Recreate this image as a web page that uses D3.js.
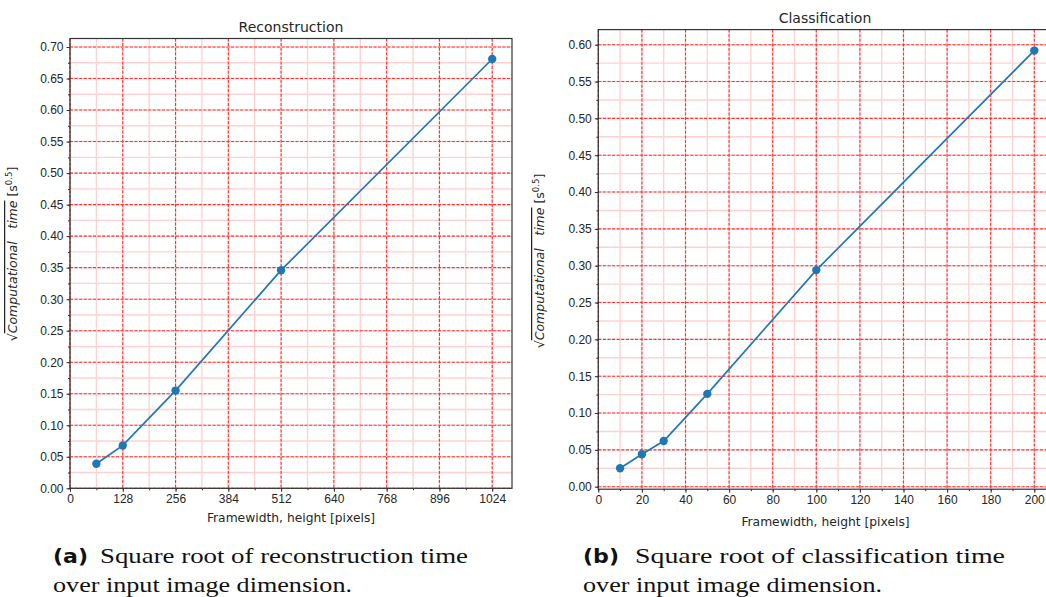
<!DOCTYPE html>
<html>
<head>
<meta charset="utf-8">
<style>
  body { margin: 0; background: #fff; }
  svg { display: block; font-family: "DejaVu Sans", sans-serif; }
  .tick text { fill: #262626; font-size: 12px; }
  .caption { font-family: "Liberation Serif", "DejaVu Serif", serif; font-size: 21px; fill: #111; }
</style>
</head>
<body>
<script src="https://cdn.jsdelivr.net/npm/d3@7"></script>
<script>
// data
var reconSizes = [64, 128, 256, 512, 1024];
var reconTimes = [0.039, 0.068, 0.155, 0.346, 0.681];
var reconXTicks = [0, 128, 256, 384, 512, 640, 768, 896, 1024];
var reconYTicks = [0, 0.05, 0.10, 0.15, 0.20, 0.25, 0.30, 0.35, 0.40, 0.45, 0.50, 0.55, 0.60, 0.65, 0.70];

var classSizes = [10, 20, 30, 50, 100, 200];
var classTimes = [0.025, 0.044, 0.062, 0.126, 0.294, 0.592];
var classXTicks = [0, 20, 40, 60, 80, 100, 120, 140, 160, 180, 200];
var classYTicks = [0, 0.05, 0.10, 0.15, 0.20, 0.25, 0.30, 0.35, 0.40, 0.45, 0.50, 0.55, 0.60];

var svg = d3.select("body").append("svg")
  .attr("width", 1046)
  .attr("height", 597);

// one matplotlib-like panel
function drawPanel(cfg) {
  var x = d3.scaleLinear().domain(cfg.xDomain).range([cfg.left, cfg.right]);
  var y = d3.scaleLinear().domain(cfg.yDomain).range([cfg.bottom, cfg.top]);
  var g = svg.append("g");

  var xMinor = d3.range(cfg.xDomain[0], cfg.xDomain[1], cfg.xMinorStep);
  var yMinor = d3.range(0, cfg.yDomain[1], 0.025);

  // minor grid
  g.append("g").selectAll("line").data(xMinor).enter().append("line")
    .attr("x1", function(d) { return x(d); }).attr("x2", function(d) { return x(d); })
    .attr("y1", cfg.top).attr("y2", cfg.bottom)
    .attr("stroke", "#ffd2d2").attr("stroke-width", 1.4);
  g.append("g").selectAll("line").data(yMinor).enter().append("line")
    .attr("y1", function(d) { return y(d); }).attr("y2", function(d) { return y(d); })
    .attr("x1", cfg.left).attr("x2", cfg.right)
    .attr("stroke", "#ffd2d2").attr("stroke-width", 1.4);

  // major grid
  g.append("g").selectAll("line").data(cfg.xTicks).enter().append("line")
    .attr("x1", function(d) { return x(d); }).attr("x2", function(d) { return x(d); })
    .attr("y1", cfg.top).attr("y2", cfg.bottom)
    .attr("stroke", "#ff3030").attr("stroke-width", 1.1).attr("stroke-dasharray", "3,1.6");
  g.append("g").selectAll("line").data(cfg.yTicks).enter().append("line")
    .attr("y1", function(d) { return y(d); }).attr("y2", function(d) { return y(d); })
    .attr("x1", cfg.left).attr("x2", cfg.right)
    .attr("stroke", "#ff3030").attr("stroke-width", 1.1).attr("stroke-dasharray", "3,1.6");

  // axes
  g.append("g").attr("transform", "translate(0," + cfg.bottom + ")")
    .call(d3.axisBottom(x).tickValues(cfg.xTicks).tickFormat(d3.format("d")).tickSize(3.5).tickPadding(3));
  g.append("g").attr("transform", "translate(0," + cfg.bottom + ")")
    .call(d3.axisBottom(x).tickValues(xMinor).tickFormat("").tickSize(2));
  g.append("g").attr("transform", "translate(" + cfg.left + ",0)")
    .call(d3.axisLeft(y).tickValues(cfg.yTicks).tickFormat(d3.format(".2f")).tickSize(3.5).tickPadding(3));
  g.append("g").attr("transform", "translate(" + cfg.left + ",0)")
    .call(d3.axisLeft(y).tickValues(yMinor).tickFormat("").tickSize(2));
  g.selectAll(".domain").remove();
  g.selectAll(".tick line").attr("stroke", "#333");

  // frame
  g.append("rect")
    .attr("x", cfg.left).attr("y", cfg.top)
    .attr("width", cfg.right - cfg.left).attr("height", cfg.bottom - cfg.top)
    .attr("fill", "none").attr("stroke", "#333").attr("stroke-width", 1.2);

  // line + markers
  var pts = cfg.xs.map(function(v, i) { return [v, cfg.ys[i]]; });
  g.append("path").datum(pts)
    .attr("fill", "none").attr("stroke", "#1f77b4").attr("stroke-width", 1.7)
    .attr("d", d3.line().x(function(d) { return x(d[0]); }).y(function(d) { return y(d[1]); }));
  g.append("g").selectAll("circle").data(pts).enter().append("circle")
    .attr("cx", function(d) { return x(d[0]); }).attr("cy", function(d) { return y(d[1]); })
    .attr("r", 4.2).attr("fill", "#1f77b4");

  // title
  g.append("text").attr("x", cfg.titleX).attr("y", cfg.top - 7)
    .attr("text-anchor", "middle").attr("font-size", 14).attr("fill", "#262626")
    .text(cfg.title);

  // x label
  g.append("text").attr("x", cfg.xLabelX).attr("y", cfg.xLabelY)
    .attr("text-anchor", "middle").attr("font-size", 12.3).attr("fill", "#262626")
    .text("Framewidth, height [pixels]");

  // y label with square root sign
  var yl = g.append("text")
    .attr("transform", "translate(" + cfg.yLabelX + "," + cfg.yLabelY + ") rotate(-90)")
    .attr("text-anchor", "middle").attr("font-size", 12.5).attr("fill", "#262626");
  yl.append("tspan").text("\u221A");
  yl.append("tspan").attr("font-style", "italic")
    .style("text-decoration", "overline").text("Computational\u2002\u2002time");
  yl.append("tspan").text(" [s");
  yl.append("tspan").attr("font-size", 8.5).attr("dy", -5).text("0.5");
  yl.append("tspan").attr("dy", 5).text("]");

  // caption
  var c = cfg.caption;
  g.append("text").attr("x", c.x).attr("y", 563)
    .attr("font-family", "DejaVu Sans").attr("font-weight", "bold")
    .attr("font-size", 20).attr("fill", "#111")
    .attr("textLength", c.tagW).attr("lengthAdjust", "spacingAndGlyphs")
    .text(c.tag);
  g.append("text").attr("class", "caption")
    .attr("x", c.line1X).attr("y", 563)
    .attr("textLength", c.line1W).attr("lengthAdjust", "spacingAndGlyphs")
    .text(c.line1);
  g.append("text").attr("class", "caption")
    .attr("x", c.x).attr("y", 592)
    .attr("textLength", c.line2W).attr("lengthAdjust", "spacingAndGlyphs")
    .text("over input image dimension.");
}

drawPanel({
  xs: reconSizes, ys: reconTimes, xTicks: reconXTicks, yTicks: reconYTicks,
  xDomain: [0, 1072], yDomain: [0, 0.7135], xMinorStep: 64,
  left: 70, right: 512, top: 38.5, bottom: 488.3,
  title: "Reconstruction", titleX: 291, xLabelX: 291, xLabelY: 522,
  yLabelX: 17, yLabelY: 254,
  caption: { x: 53, tag: "(a)", tagW: 35, line1X: 100, line1W: 368,
             line1: "Square root of reconstruction time", line2W: 299 }
});

drawPanel({
  xs: classSizes, ys: classTimes, xTicks: classXTicks, yTicks: classYTicks,
  xDomain: [0, 209.5], yDomain: [-0.0034, 0.6205], xMinorStep: 10,
  left: 598.3, right: 1055, top: 29.6, bottom: 489.2,
  title: "Classification", titleX: 825, xLabelX: 825.5, xLabelY: 526,
  yLabelX: 544, yLabelY: 261,
  caption: { x: 583, tag: "(b)", tagW: 36, line1X: 635, line1W: 370,
             line1: "Square root of classification time", line2W: 299 }
});
</script>
</body>
</html>
